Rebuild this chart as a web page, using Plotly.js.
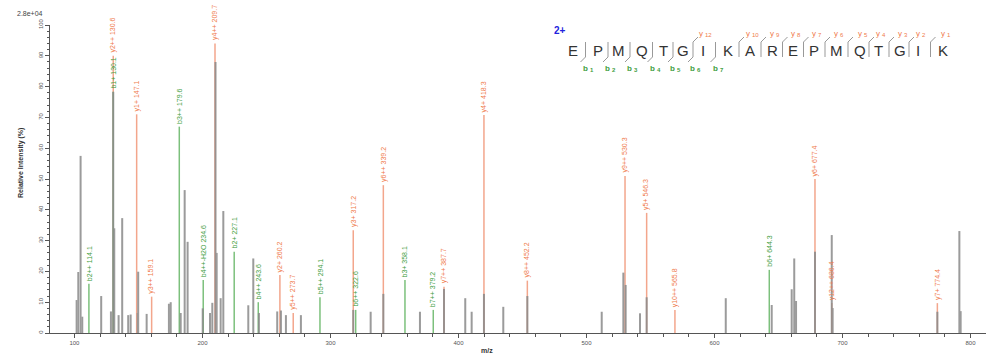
<!DOCTYPE html>
<html>
<head>
<meta charset="utf-8">
<script src="https://cdn.plot.ly/plotly-3.0.1.min.js"></script>
<style>html,body{margin:0;padding:0;background:#fff;}#chart{width:988px;height:355px;}</style>
</head>
<body>
<div id="chart"></div>
<script>
// ---- data ----
// unassigned peaks (m/z, relative intensity %)
const grayMz = [101.7,103.0,104.8,106.1,120.9,128.5,130.3,131.1,134.5,137.3,142.0,143.9,149.4,149.8,156.4,173.8,175.2,183.0,186.1,188.4,200.2,205.9,207.7,210.2,211.1,214.2,216.3,235.8,239.7,244.1,258.4,261.3,265.2,276.9,317.8,331.4,341.3,369.9,388.7,405.3,410.3,419.9,435.0,453.8,511.9,528.8,530.6,541.8,547.0,608.8,644.7,660.3,662.3,663.7,678.5,691.6,692.3,774.1,791.3,792.3];
const grayInt = [10.7,19.8,57.5,5.3,12.0,7,78.3,34,5.8,37.3,5.8,6,6.5,19.9,6.2,9.5,10,6.5,46.4,29.6,8,6.5,9.8,88,26,11.3,39.6,9,24.2,6.5,7,7.3,5.8,5.8,7.5,6.9,12.7,6.9,14.3,11.3,6.9,12.7,8.5,12,6.9,19.6,15.6,6.4,11.6,11.3,9.1,14.2,24.2,10.4,26.4,31.8,8.1,6.9,33.1,7.1];

// y-ion assigned peaks
const yMz = [130.3,148.6,160.3,209.8,260.5,270.9,317.8,341.3,388.7,419.9,453.8,530.1,547.0,569.1,678.5,691.6,774.1];
const yInt = [90,71,11.8,94,18.8,6.5,33.4,48,15,70.8,17,51,39,7.5,50,9.7,9.7];
const yLabels = ["y2++ 130.6","y1+ 147.1","y3++ 159.1","y4++ 209.7","y2+ 260.2","y5++ 273.7","y3+ 317.2","y6++ 339.2","y7++ 387.7","y4+ 418.3","y8++ 452.2","y9++ 530.3","y5+ 546.3","y10++ 565.8","y6+ 677.4","y12++ 686.4","y7+ 774.4"];

// b-ion assigned peaks
const bMz = [111.3,130.3,181.9,200.6,224.8,243.6,291.8,319.7,358.2,380.3,642.8];
const bInt = [16,78.3,67,17.2,26.4,10,11.6,7.5,17.2,7.5,20.5];
const bLabels = ["b2++ 114.1","b1+ 130.1","b3++ 179.6","b4++-H2O 234.6","b2+ 227.1","b4++ 243.6","b5++ 294.1","b6++ 322.6","b3+ 358.1","b7++ 379.2","b6+ 644.3"];

// peptide sequence annotation
const sequence = ["E","P","M","Q","T","G","I","K","A","R","E","P","M","Q","T","G","I","K"];
const bIonNames = ["b1","b2","b3","b4","b5","b6","b7"];                        // separators 0..6
const yIonNames = ["y12","","y10","y9","y8","y7","y6","y5","y4","y3","y2","y1"]; // separators 5..16

const xTitle = "m/z";
const yTitle = "Relative Intensity (%)";
const scaleLabel = "2.8e+04";
const chargeLabel = "2+";

// ---- build ----
function sticks(mz, inten){
  const xs=[], ys=[];
  for(let i=0;i<mz.length;i++){ xs.push(mz[i],mz[i],null); ys.push(0,inten[i],null); }
  return {x:xs,y:ys};
}
const g = sticks(grayMz, grayInt), r = sticks(yMz, yInt), b = sticks(bMz, bInt);
const RED_LINE='#f3a68c', RED_TXT='#ef7b4c', GRN_LINE='#7cc07c', GRN_TXT='#3f9e3f', GRAY='#8a8a8a';
const FONT='Arial, Liberation Sans, sans-serif';

const traces = [
  {type:'scatter',mode:'lines',x:r.x,y:r.y,line:{color:RED_LINE,width:1.5},hoverinfo:'skip',showlegend:false},
  {type:'scatter',mode:'lines',x:b.x,y:b.y,line:{color:GRN_LINE,width:1.5},hoverinfo:'skip',showlegend:false},
  {type:'scatter',mode:'lines',x:g.x,y:g.y,line:{color:GRAY,width:2},opacity:0.85,hoverinfo:'skip',showlegend:false}
];

const L=50, R=986, T=25, B=333;
const px = x => (x-L)/(R-L);
const py = y => (B-y)/(B-T);
function paperText(x,y,text,font,extra){
  return Object.assign({x:px(x),y:py(y),xref:'paper',yref:'paper',text:text,showarrow:false,
    xanchor:'center',yanchor:'middle',font:font},extra||{});
}

const ann = [];
yMz.forEach((m,i)=>ann.push({x:m,y:yInt[i],xref:'x',yref:'y',text:yLabels[i],textangle:-90,showarrow:false,
  xanchor:'center',yanchor:'bottom',yshift:1,font:{family:FONT,size:7,color:RED_TXT}}));
bMz.forEach((m,i)=>ann.push({x:m,y:bInt[i],xref:'x',yref:'y',text:bLabels[i],textangle:-90,showarrow:false,
  xanchor:'center',yanchor:'bottom',yshift:1,font:{family:FONT,size:7,color:GRN_TXT}}));

ann.push(paperText(30,14,scaleLabel,{family:FONT,size:7,color:'#444'}));
ann.push(paperText(21,163,'<b>'+yTitle+'</b>',{family:FONT,size:7,color:'#333'},{textangle:-90}));
ann.push(paperText(487,350,'<b>'+xTitle+'</b>',{family:FONT,size:7,color:'#333'}));
ann.push(paperText(560,31,'<b>'+chargeLabel+'</b>',{family:FONT,size:10,color:'#2222dd'}));

const letterX = [573,598,618,642,663,683,703,728,750,772,793,814,836,860,878,900,918,943];
sequence.forEach((s,i)=>ann.push(paperText(letterX[i],50,s,{family:FONT,size:15,color:'#333'})));

// ion name with subscript drawn as two texts
function ionName(cx,cy,name,color,bold){
  const main = name[0], num = name.slice(1);
  const w = num.length>1 ? 2 : 0;
  ann.push(paperText(cx-w,cy,bold?'<b>'+main+'</b>':main,{family:FONT,size:8,color:color},{xanchor:'right',borderpad:0}));
  ann.push(paperText(cx-w,cy+2,bold?'<b>'+num+'</b>':num,{family:FONT,size:6,color:color},{xanchor:'left',borderpad:0}));
}

const shapes = [];
const SEP='#999';
for(let i=0;i<sequence.length-1;i++){
  const sx=(letterX[i]+letterX[i+1])/2;
  const hasB = i<bIonNames.length;
  const yi = i-5; const hasY = yi>=0 && yIonNames[yi]!=="";
  if(!hasB && !hasY) continue;
  shapes.push({type:'line',xref:'paper',yref:'paper',x0:px(sx),x1:px(sx),y0:py(42),y1:py(57),line:{color:SEP,width:1}});
  if(hasB){
    shapes.push({type:'line',xref:'paper',yref:'paper',x0:px(sx),x1:px(sx-5),y0:py(57),y1:py(62),line:{color:SEP,width:1}});
    ionName(sx+3,68,bIonNames[i],GRN_TXT,true);
  }
  if(hasY){
    shapes.push({type:'line',xref:'paper',yref:'paper',x0:px(sx),x1:px(sx+5),y0:py(42),y1:py(37),line:{color:SEP,width:1}});
    ionName(letterX[i+1]+3,33,yIonNames[yi],RED_TXT,false);
  }
}

const tickFont = {family:FONT,size:6,color:'#555'};
const layout = {
  width:988,height:355,margin:{l:L,r:988-R,t:T,b:355-B},
  paper_bgcolor:'#fff',plot_bgcolor:'#fff',showlegend:false,
  xaxis:{range:[80.9,812.1],showgrid:false,zeroline:false,showline:true,linecolor:'#555',linewidth:1,
    ticks:'outside',ticklen:4,tickcolor:'#555',tick0:0,dtick:100,tickfont:tickFont,
    minor:{dtick:20,ticks:'outside',ticklen:3,tickcolor:'#555'}},
  yaxis:{range:[0,100],showgrid:false,zeroline:false,showline:true,linecolor:'#555',linewidth:1,
    ticks:'outside',ticklen:4,tickcolor:'#555',dtick:10,tickfont:tickFont,tickangle:-90,
    minor:{dtick:2,ticks:'outside',ticklen:2,tickcolor:'#555'}},
  annotations:ann,shapes:shapes
};
Plotly.newPlot('chart',traces,layout,{staticPlot:true,displayModeBar:false});
</script>
</body>
</html>
